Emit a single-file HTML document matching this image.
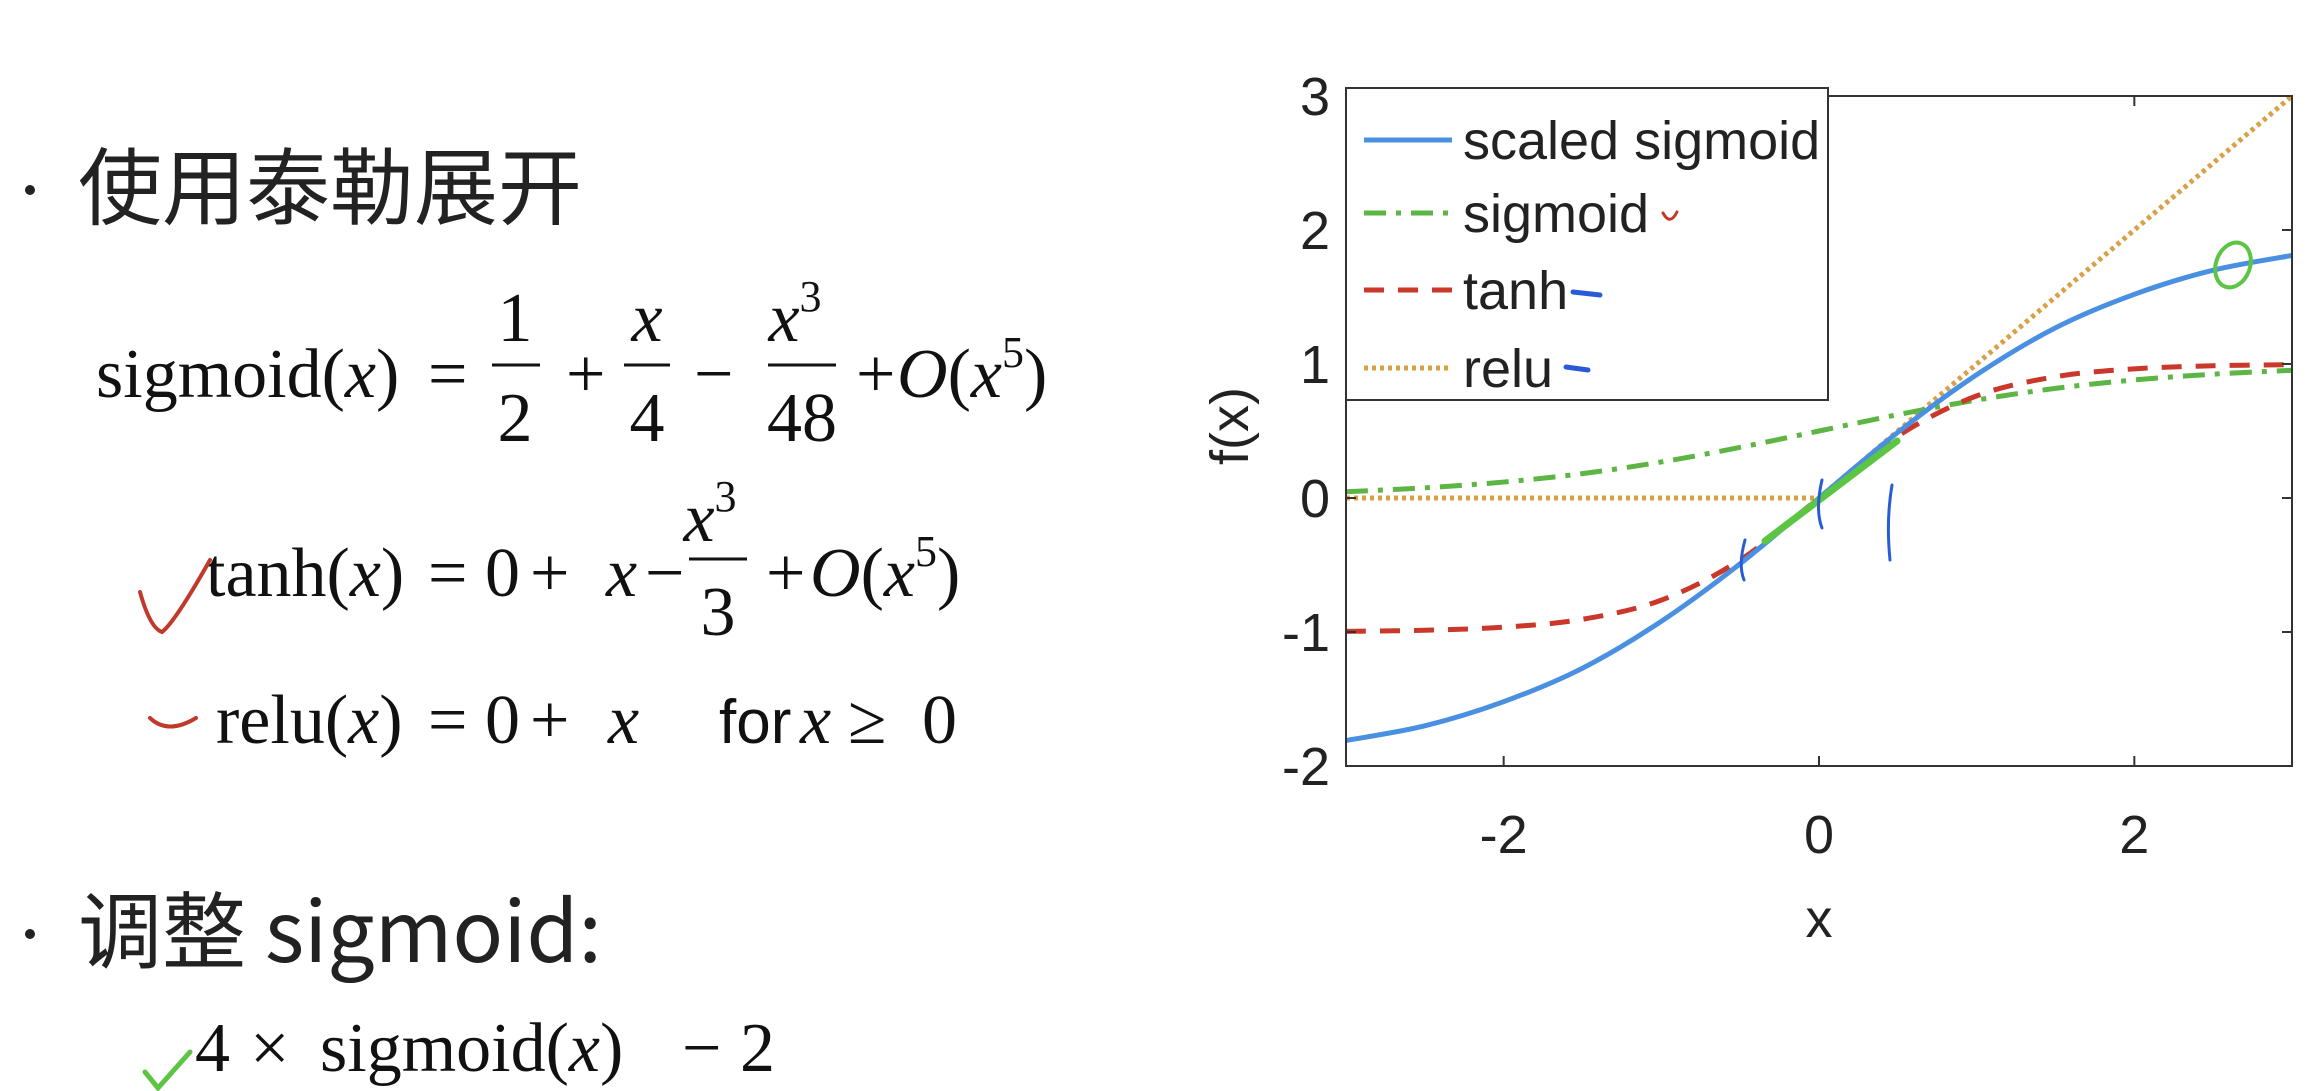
<!DOCTYPE html>
<html><head><meta charset="utf-8">
<style>
html,body{margin:0;padding:0;background:#fff;}
svg{display:block;}
.cjk{font-family:"Noto Sans CJK SC","Liberation Sans",sans-serif;}
.m{font-family:"Liberation Serif",serif;font-size:70px;fill:#111;}
.mi{font-family:"Liberation Serif",serif;font-size:70px;font-style:italic;fill:#111;}
.ax{font-family:"Liberation Sans",sans-serif;font-size:54px;fill:#222;}
</style></head>
<body>
<svg id="page" width="2306" height="1091" viewBox="0 0 2306 1091" xmlns="http://www.w3.org/2000/svg">
<g>
  <circle cx="30" cy="190" r="5" fill="#222"/>
  <text x="78" y="218" class="cjk" font-size="84" fill="#222">使用泰勒展开</text>
</g>
<g>
  <text x="96" y="397" class="m">sigmoid(<tspan class="mi">x</tspan>)</text>
  <text x="428" y="397" class="m">=</text>
  <text x="515" y="341" class="m" text-anchor="middle">1</text>
  <line x1="492" y1="365" x2="540" y2="365" stroke="#111" stroke-width="3"/>
  <text x="515" y="441" class="m" text-anchor="middle">2</text>
  <text x="566" y="397" class="m">+</text>
  <text x="647" y="341" class="mi" text-anchor="middle">x</text>
  <line x1="624" y1="365" x2="670" y2="365" stroke="#111" stroke-width="3"/>
  <text x="647" y="441" class="m" text-anchor="middle">4</text>
  <text x="694" y="397" class="m">−</text>
  <text x="795" y="341" class="mi" text-anchor="middle">x<tspan font-style="normal" font-size="44" dy="-30">3</tspan></text>
  <line x1="768" y1="365" x2="836" y2="365" stroke="#111" stroke-width="3"/>
  <text x="802" y="441" class="m" text-anchor="middle">48</text>
  <text x="856" y="397" class="m">+</text>
  <text x="897" y="397" class="mi">O<tspan font-style="normal">(</tspan>x<tspan font-style="normal" font-size="44" dy="-30">5</tspan><tspan font-style="normal" dy="30">)</tspan></text>
</g>
<g>
  <text x="206" y="596" class="m">tanh(<tspan class="mi">x</tspan>)</text>
  <text x="428" y="596" class="m">=</text>
  <text x="485" y="596" class="m">0</text>
  <text x="530" y="596" class="m">+</text>
  <text x="606" y="596" class="mi">x</text>
  <text x="645" y="596" class="m">−</text>
  <text x="710" y="541" class="mi" text-anchor="middle">x<tspan font-style="normal" font-size="44" dy="-30">3</tspan></text>
  <line x1="689" y1="559" x2="747" y2="559" stroke="#111" stroke-width="3"/>
  <text x="718" y="635" class="m" text-anchor="middle">3</text>
  <text x="766" y="596" class="m">+</text>
  <text x="810" y="596" class="mi">O<tspan font-style="normal">(</tspan>x<tspan font-style="normal" font-size="44" dy="-30">5</tspan><tspan font-style="normal" dy="30">)</tspan></text>
</g>
<g>
  <text x="216" y="743" class="m">relu(<tspan class="mi">x</tspan>)</text>
  <text x="428" y="743" class="m">=</text>
  <text x="485" y="743" class="m">0</text>
  <text x="530" y="743" class="m">+</text>
  <text x="608" y="743" class="mi">x</text>
  <text x="719" y="743" font-family="Liberation Sans, sans-serif" font-size="62" fill="#111">for</text>
  <text x="800" y="743" class="mi">x</text>
  <text x="848" y="743" class="m">≥</text>
  <text x="922" y="743" class="m">0</text>
</g>
<g>
  <circle cx="30" cy="934" r="5" fill="#222"/>
  <text x="78" y="962" class="cjk" font-size="84" fill="#222">调整 sigmoid:</text>
</g>
<g>
  <text x="195" y="1071" class="m" font-size="86">4</text>
  <text x="250" y="1071" class="m" font-size="86">×</text>
  <text x="320" y="1071" class="m" font-size="88">sigmoid(<tspan class="mi" font-size="88">x</tspan>)</text>
  <text x="682" y="1071" class="m" font-size="86">−</text>
  <text x="740" y="1071" class="m" font-size="86">2</text>
</g>
<g fill="none" stroke-linecap="round">
  <path d="M140 592 Q150 628 162 632 Q175 622 210 560" stroke="#c0392b" stroke-width="4"/>
  <path d="M150 718 Q168 735 196 718" stroke="#c0392b" stroke-width="4"/>
  <path d="M145 1072 L158 1088 L190 1052" stroke="#5cc544" stroke-width="5"/>
</g>
<g id="chart"></g>
</svg>
<script>
const xs = [-3,-2.5,-2,-1.5,-1,-0.5,0,0.5,1,1.5,2,2.5,3];
const scaledSigmoid = [-1.81,-1.70,-1.52,-1.27,-0.92,-0.49,0,0.49,0.92,1.27,1.52,1.70,1.81];
const sigmoidVals = [0.047,0.076,0.119,0.182,0.269,0.378,0.5,0.622,0.731,0.818,0.881,0.924,0.953];
const tanhVals = [-0.995,-0.987,-0.964,-0.905,-0.762,-0.462,0,0.462,0.762,0.905,0.964,0.987,0.995];
const reluVals = [0,0,0,0,0,0,0,0.5,1,1.5,2,2.5,3];
const xTicks = [-2,0,2];
const yTicks = [-2,-1,0,1,2,3];
const legendLabels = ["scaled sigmoid","sigmoid","tanh","relu"];

const NS="http://www.w3.org/2000/svg";
const L=1346,R=2292,T=96,B=766;
const sx=v=>L+(v+3)/6*(R-L);
const sy=v=>B-(v+2)/5*(B-T);
const g=document.getElementById('chart');
function mk(tag,attrs,parent){const e=document.createElementNS(NS,tag);for(const k in attrs)e.setAttribute(k,attrs[k]);(parent||g).appendChild(e);return e;}

const styles=[
 {c:"#4a90e2",d:""},
 {c:"#5db543",d:"22 10 5 10"},
 {c:"#c9382a",d:"20 14"},
 {c:"#d9a046",d:"4 4"}
];
const series=[scaledSigmoid,sigmoidVals,tanhVals,reluVals];
const names=['scaled-sigmoid-line','sigmoid-line','tanh-line','relu-line'];
function smooth(pts){let d=`M${pts[0][0]},${pts[0][1]}`;for(let i=0;i<pts.length-1;i++){const p0=pts[Math.max(0,i-1)],p1=pts[i],p2=pts[i+1],p3=pts[Math.min(pts.length-1,i+2)];const c1=[p1[0]+(p2[0]-p0[0])/6,p1[1]+(p2[1]-p0[1])/6],c2=[p2[0]-(p3[0]-p1[0])/6,p2[1]-(p3[1]-p1[1])/6];d+=` C${c1[0]},${c1[1]} ${c2[0]},${c2[1]} ${p2[0]},${p2[1]}`;}return d;}
[3,1,2,0].forEach(i=>{
  const pts=xs.map((x,j)=>[sx(x),sy(series[i][j])]);
  const d = i===3 ? 'M'+pts.map(p=>p.join(',')).join(' L') : smooth(pts);
  const p=mk('path',{d:d,fill:'none',stroke:styles[i].c,'stroke-width':5,'stroke-dasharray':styles[i].d});
  
  
});
const box=mk('rect',{x:L,y:T,width:R-L,height:B-T,fill:'none',stroke:'#333','stroke-width':2});


xTicks.forEach(t=>{
  mk('line',{x1:sx(t),x2:sx(t),y1:B,y2:B-10,stroke:'#333','stroke-width':2});
  mk('line',{x1:sx(t),x2:sx(t),y1:T,y2:T+10,stroke:'#333','stroke-width':2});
  const tx=mk('text',{x:sx(t),y:853,'text-anchor':'middle',class:'ax'});
  tx.textContent=t;
  
  
});
yTicks.forEach(t=>{
  mk('line',{x1:L,x2:L+10,y1:sy(t),y2:sy(t),stroke:'#333','stroke-width':2});
  mk('line',{x1:R,x2:R-10,y1:sy(t),y2:sy(t),stroke:'#333','stroke-width':2});
  const tx=mk('text',{x:1330,y:sy(t)+19,'text-anchor':'end',class:'ax'});
  tx.textContent=t;
  
  
});
const xl=mk('text',{x:sx(0),y:937,'text-anchor':'middle',class:'ax'});xl.textContent='x';


const yl=mk('text',{x:0,y:0,'text-anchor':'middle',class:'ax',transform:'translate(1248,426) rotate(-90)'});yl.textContent='f(x)';


const lg=mk('g',{});


mk('rect',{x:1346,y:88,width:482,height:312,fill:'#fff',stroke:'#333','stroke-width':2},lg);
const ly=[140,213,290,368];
legendLabels.forEach((lab,i)=>{
  const e=mk('g',{},lg);
  
  
  mk('line',{x1:1364,x2:1452,y1:ly[i],y2:ly[i],stroke:styles[i].c,'stroke-width':5,'stroke-dasharray':styles[i].d},e);
  const t=mk('text',{x:1463,y:ly[i]+19,class:'ax'},e);t.textContent=lab;
});
const ann=mk('g',{fill:'none','stroke-linecap':'round'});


mk('path',{d:'M1663 213 Q1670 226 1677 212',stroke:'#c0392b','stroke-width':3},ann);
mk('path',{d:'M1573 292 L1600 295',stroke:'#2a5bd7','stroke-width':5},ann);
mk('path',{d:'M1566 367 L1588 370',stroke:'#2a5bd7','stroke-width':5},ann);
mk('ellipse',{cx:2233,cy:265,rx:17,ry:23,stroke:'#5cc544','stroke-width':4,transform:'rotate(20 2233 265)'},ann);
mk('path',{d:'M1765 541 L1897 441',stroke:'#5cc544','stroke-width':7},ann);
mk('path',{d:'M1745 540 Q1738 565 1744 580',stroke:'#2a5bd7','stroke-width':3},ann);
mk('path',{d:'M1822 480 Q1815 510 1822 528',stroke:'#2a5bd7','stroke-width':3},ann);
mk('path',{d:'M1892 485 Q1886 520 1890 560',stroke:'#2a5bd7','stroke-width':3},ann);
</script>
</body></html>
